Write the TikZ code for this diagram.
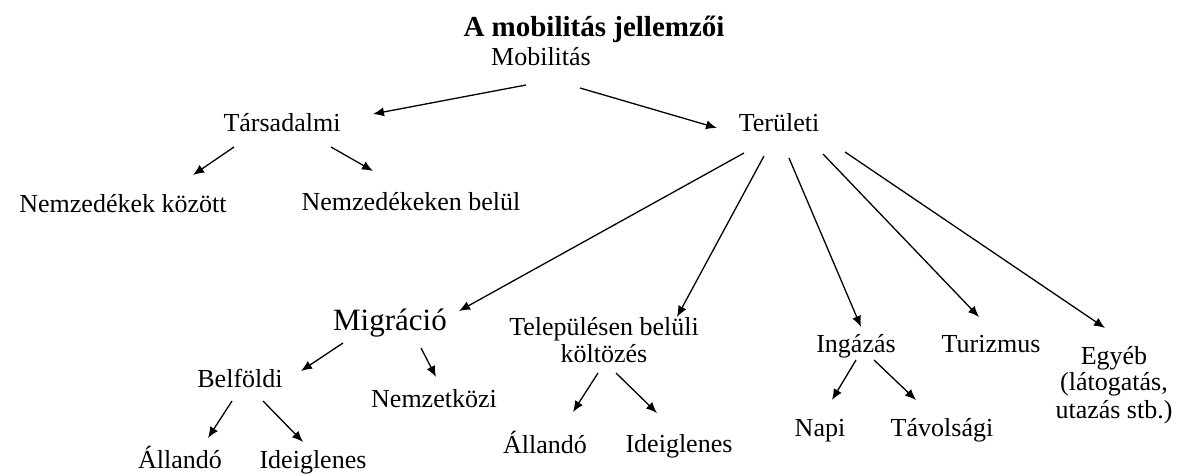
\documentclass[tikz,border=0pt]{standalone}
\usepackage{fontspec}
\setmainfont{Liberation Serif}
\usetikzlibrary{arrows.meta,calc}

\begin{document}
\begin{tikzpicture}[
    x=0.5pt, y=-0.5pt,
    lbl/.style={inner sep=0pt, anchor=base, align=center, font=\fontsize{13}{13.5}\selectfont},
    arr/.style={-{Latex[length=5.5pt,width=4.6pt]}, line width=0.65pt}
]
    \useasboundingbox (0,0) rectangle (1180,476);

    % Title and root
    \node[lbl, font=\fontsize{14.5}{16}\selectfont\bfseries] (title) at (594,37) {A mobilitás jellemzői};
    \node[lbl] (mob) at (541,66) {Mobilitás};

    % Second level
    \node[lbl] (tars) at (282,132) {Társadalmi};
    \node[lbl] (ter) at (779,132) {Területi};
    \draw[arr] ($(mob.base)+(-15,19)$) -- ($(tars.base)+(91,-18)$);
    \draw[arr] ($(mob.base)+(39,22)$) -- ($(ter.base)+(-62,-4)$);

    % Social mobility
    \node[lbl] (nkoz) at (123,213) {Nemzedékek között};
    \node[lbl] (nbel) at (411,211) {Nemzedékeken belül};
    \draw[arr] ($(tars.base)+(-48,15)$) -- ($(nkoz.base)+(70,-38)$);
    \draw[arr] ($(tars.base)+(49,15)$) -- ($(nbel.base)+(-38,-40)$);

    % Spatial mobility (base = last line of a multi-line node)
    \node[lbl, font=\fontsize{15.5}{17}\selectfont] (mig) at (390,330) {Migráció};
    \node[lbl] (tel) at (604,363) {Településen belüli\\költözés};
    \node[lbl] (ing) at (856,352) {Ingázás};
    \node[lbl] (tur) at (991,352) {Turizmus};
    \node[lbl] (egy) at (1114,418) {Egyéb\\(látogatás,\\utazás stb.)};
    \draw[arr] ($(ter.base)+(-35,21)$) -- ($(mig.base)+(69,-19)$);
    \draw[arr] ($(ter.base)+(-15,24)$) -- ($(tel.base)+(73,-46)$);
    \draw[arr] ($(ter.base)+(10,26)$) -- ($(ing.base)+(5,-25)$);
    \draw[arr] ($(ter.base)+(44,22)$) -- ($(tur.base)+(-12,-35)$);
    \draw[arr] ($(ter.base)+(66,20)$) -- ($(egy.base)+(-9,-90)$);

    % Migration
    \node[lbl] (belf) at (240,387) {Belföldi};
    \node[lbl] (nemz) at (434,408) {Nemzetközi};
    \draw[arr] ($(mig.base)+(-47,13)$) -- ($(belf.base)+(61,-16)$);
    \draw[arr] ($(mig.base)+(31,18)$) -- ($(nemz.base)+(2,-31)$);
    \node[lbl] (alla) at (180,468) {Állandó};
    \node[lbl] (idea) at (313,468) {Ideiglenes};
    \draw[arr] ($(belf.base)+(-8,14)$) -- ($(alla.base)+(28,-30)$);
    \draw[arr] ($(belf.base)+(23,14)$) -- ($(idea.base)+(-10,-26)$);

    % Moving within a settlement
    \node[lbl] (allb) at (545,453) {Állandó};
    \node[lbl] (ideb) at (679,452) {Ideiglenes};
    \draw[arr] ($(tel.base)+(-6,10)$) -- ($(allb.base)+(28,-41)$);
    \draw[arr] ($(tel.base)+(12,10)$) -- ($(ideb.base)+(-22,-39)$);

    % Commuting
    \node[lbl] (napi) at (820,437) {Napi};
    \node[lbl] (tav) at (942,437) {Távolsági};
    \draw[arr] ($(ing.base)+(0,8)$) -- ($(napi.base)+(12,-37)$);
    \draw[arr] ($(ing.base)+(18,8)$) -- ($(tav.base)+(-26,-37)$);
\end{tikzpicture}
\end{document}
